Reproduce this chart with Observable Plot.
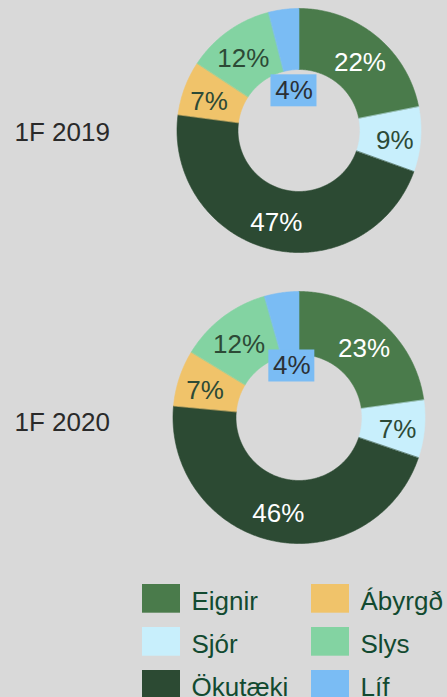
<!DOCTYPE html>
<html><head><meta charset="utf-8">
<script src="https://cdn.jsdelivr.net/npm/d3@7"></script>
<script src="https://cdn.jsdelivr.net/npm/@observablehq/plot@0.6"></script>
<style>
html,body{margin:0;padding:0;background:#d9d9d9;}
#chart svg{display:block;}
</style>
</head><body><div id="chart"></div>
<script>
// ---- data ----
const categories = ["Eignir", "Sjór", "Ökutæki", "Ábyrgð", "Slys", "Líf"];
const years = ["1F 2019", "1F 2020"];
const shares2019 = [21.9, 8.6, 46.6, 7.2, 11.7, 4.0];
const shares2020 = [22.8, 7.4, 46.3, 7.2, 11.9, 4.4];

// ---- styles ----
const colors = ["#4a7b4b", "#c8effc", "#2c4a33", "#f0c36a", "#83d3a2", "#7abcf4"];
const lightLabelCats = new Set(["Eignir", "Ökutæki"]);
const font = "'Liberation Sans', Arial, sans-serif";

// ---- layout ----
const W = 447, H = 697;
const layout = [
  {cx: 298.5, cy: 130, R: 122, r: 61, lrx: 96, lry: 92, smallR: 40, yearY: 132},
  {cx: 298.5, cy: 417, R: 126, r: 63, lrx: 99, lry: 95, smallR: 52, yearY: 422}
];
const labelDy = 3;
const sharesByYear = [shares2019, shares2020];

const slicePts = [], labels = [], boxes = [], yearLabels = [];
sharesByYear.forEach((shares, yi) => {
  const L = layout[yi];
  const arcs = d3.pie().sort(null).value(d => d)(shares);
  yearLabels.push({text: years[yi], y: L.yearY});
  arcs.forEach((a, i) => {
    const cat = categories[i], key = years[yi] + "|" + cat;
    const n = Math.max(2, Math.ceil((a.endAngle - a.startAngle) / 0.01));
    for (let k = 0; k <= n; k++) {
      const t = a.startAngle + (a.endAngle - a.startAngle) * k / n;
      slicePts.push({key, cat, x: L.cx + L.R * Math.sin(t), y: L.cy - L.R * Math.cos(t)});
    }
    for (let k = n; k >= 0; k--) {
      const t = a.startAngle + (a.endAngle - a.startAngle) * k / n;
      slicePts.push({key, cat, x: L.cx + L.r * Math.sin(t), y: L.cy - L.r * Math.cos(t)});
    }
    const mid = (a.startAngle + a.endAngle) / 2;
    const small = a.value < 5;
    let lx, ly;
    if (small) {
      lx = L.cx + L.smallR * Math.sin(mid);
      ly = L.cy - L.smallR * Math.cos(mid);
    } else {
      lx = L.cx + L.lrx * Math.sin(mid);
      ly = L.cy - L.lry * Math.cos(mid) + labelDy;
    }
    labels.push({cat, x: lx, y: ly, text: Math.round(a.value) + "%", small});
    if (small) boxes.push({cat, x1: lx - 23, x2: lx + 23, y1: ly - 16, y2: ly + 16});
  });
});

const legend = categories.map((cat, i) => {
  const c = Math.floor(i / 3), r = i % 3;
  return {cat, x1: 142 + c * 169, x2: 180 + c * 169, y1: 584 + r * 43, y2: 612.7 + r * 43,
          tx: 191 + c * 169, ty: 601 + r * 43};
});

const chart = Plot.plot({
  width: W, height: H,
  margin: 0,
  x: {domain: [0, W], range: [0, W], axis: null},
  y: {domain: [0, H], range: [0, H], axis: null},
  color: {domain: categories, range: colors},
  style: {background: "#d9d9d9", fontFamily: font},
  marks: [
    Plot.line(slicePts, {x: "x", y: "y", z: "key", fill: "cat", stroke: "cat", strokeWidth: 0.6, curve: "linear-closed"}),
    Plot.rect(boxes, {x1: "x1", x2: "x2", y1: "y1", y2: "y2", fill: "cat"}),
    Plot.text(labels.filter(d => lightLabelCats.has(d.cat)), {x: "x", y: "y", text: "text", fill: "#ffffff", fontSize: 26}),
    Plot.text(labels.filter(d => !lightLabelCats.has(d.cat) && !d.small), {x: "x", y: "y", text: "text", fill: "#2d4a36", fontSize: 26}),
    Plot.text(labels.filter(d => d.small), {x: "x", y: "y", text: "text", fill: "#2b3035", fontSize: 26}),
    Plot.text(yearLabels, {x: () => 14, y: "y", text: "text", textAnchor: "start", fill: "#2a2a2a", fontSize: 26}),
    Plot.rect(legend, {x1: "x1", x2: "x2", y1: "y1", y2: "y2", fill: "cat"}),
    Plot.text(legend, {x: "tx", y: "ty", text: "cat", textAnchor: "start", fill: "#124a30", fontSize: 26})
  ]
});
document.getElementById("chart").appendChild(chart);
</script>
</body></html>
